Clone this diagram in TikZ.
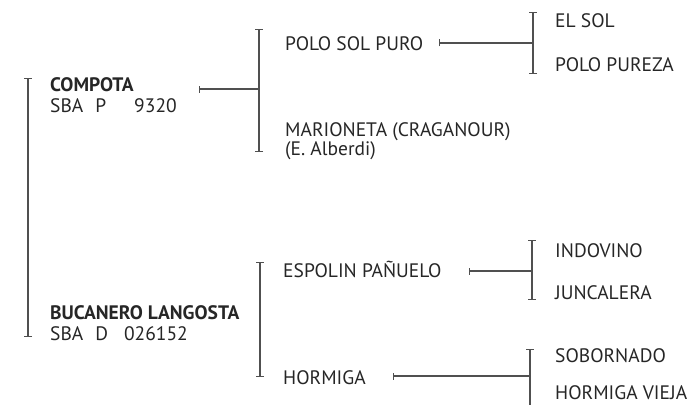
\documentclass[tikz,border=0pt]{standalone}
\usepackage{fontspec}
\setmainfont{PT Sans}
\usetikzlibrary{arrows.meta}
\definecolor{txt}{HTML}{262626}
\definecolor{ln}{HTML}{505050}
\begin{document}
\begin{tikzpicture}[x=1pt,y=-1pt,
  lbl/.style={anchor=base west, inner sep=0pt, text=txt, font=\fontsize{19.5}{21}\selectfont},
  bold/.style={font=\fontsize{19.5}{21}\selectfont\bfseries},
  brk/.style={draw=ln, line width=1.2pt, {Bar[width=8pt]}-{Bar[width=8pt]}},
  brkopen/.style={draw=ln, line width=1.2pt, {Bar[width=8pt]}-},
  conn/.style={draw=ln, line width=1.2pt, {Bar[width=7pt]}-}
]
\useasboundingbox (0,0) rectangle (692,404);

% texts
\node[lbl,bold] (compota) at (50,91) {COMPOTA};
\node[lbl] (compotaid) at (50,112) {SBA\hspace{12pt}P\hspace{28pt}9320};
\node[lbl,bold] (bucanero) at (50,319) {BUCANERO LANGOSTA};
\node[lbl] (bucid) at (50,340) {SBA\hspace{12pt}D\hspace{16pt}026152};
\node[lbl] (polosol) at (285,50) {POLO SOL PURO};
\node[lbl] (marioneta) at (285,136) {MARIONETA (CRAGANOUR)};
\node[lbl] (alberdi) at (285,155) {(E. Alberdi)};
\node[lbl] (elsol) at (555,28) {EL SOL};
\node[lbl] (polopureza) at (555,71) {POLO PUREZA};
\node[lbl] (espolin) at (283,277) {ESPOLIN PAÑUELO};
\node[lbl] (hormiga) at (283,384) {HORMIGA};
\node[lbl] (indovino) at (555,257) {INDOVINO};
\node[lbl] (juncalera) at (555,299) {JUNCALERA};
\node[lbl] (sobornado) at (555,362) {SOBORNADO};
\node[lbl] (hvieja) at (555,399) {HORMIGA VIEJA};

% bracket coordinates
\coordinate (b1t) at (28,78);   \coordinate (b1b) at (28,337);
\coordinate (b2t) at (259,29);  \coordinate (b2b) at (259,152);
\coordinate (b3t) at (533,12);  \coordinate (b3b) at (533,74);
\coordinate (b4t) at (260,262); \coordinate (b4b) at (260,377);
\coordinate (b5t) at (532,240); \coordinate (b5b) at (532,300);
\coordinate (b6t) at (530,349); \coordinate (b6b) at (530,412);

% connector starts and junctions
\coordinate (c1s) at (199,89);  \coordinate (c1e) at (259,89);
\coordinate (c2s) at (439,43);  \coordinate (c2e) at (533,43);
\coordinate (c3s) at (469,271); \coordinate (c3e) at (532,271);
\coordinate (c4s) at (393,376); \coordinate (c4e) at (530,376);

% brackets
\draw[brk] (b1t) -- (b1b);
\draw[brk] (b2t) -- (b2b);
\draw[brk] (b3t) -- (b3b);
\draw[brk] (b4t) -- (b4b);
\draw[brk] (b5t) -- (b5b);
\draw[brkopen] (b6t) -- (b6b);

% connectors
\draw[conn] (c1s) -- (c1e);
\draw[conn] (c2s) -- (c2e);
\draw[conn] (c3s) -- (c3e);
\draw[conn] (c4s) -- (c4e);
\end{tikzpicture}
\end{document}
